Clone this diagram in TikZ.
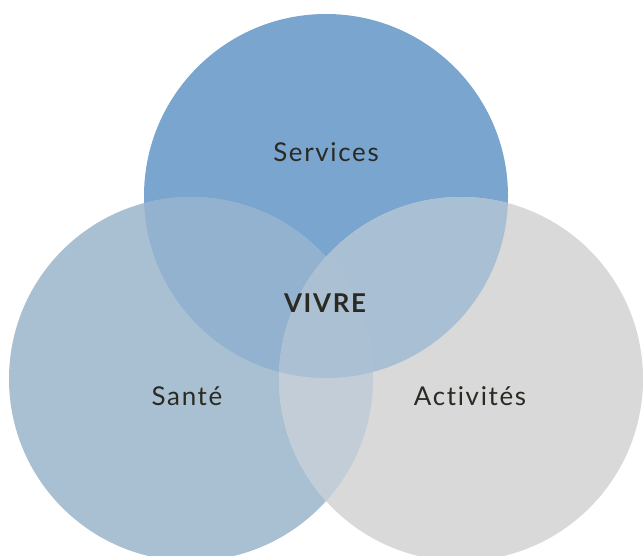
\documentclass[tikz,border=0pt]{standalone}
\usepackage{fontspec}
\setmainfont{Lato}[LetterSpace=6.5,Ligatures={NoCommon}]
\definecolor{cT}{HTML}{79A5CF}
\definecolor{cL}{HTML}{A9BFD2}
\definecolor{cR}{HTML}{D9D9D9}
\definecolor{cTL}{HTML}{93B2CF}
\definecolor{cTR}{HTML}{A9BFD4}
\definecolor{cLR}{HTML}{C2CDD8}
\definecolor{cTLR}{HTML}{ABC0D3}
\definecolor{ink}{HTML}{2A2A22}
\begin{document}
\begin{tikzpicture}[x=1bp,y=-1bp,
  lbl/.style={text=ink,font=\fontsize{26}{30}\selectfont,anchor=base,inner sep=0pt},
  lblb/.style={lbl,font=\fontsize{26}{30}\selectfont\bfseries}]
\useasboundingbox (0,0) rectangle (643,556);
\begin{scope}
\clip (0,0) rectangle (643,556);
\coordinate (cT) at (326,196);
\coordinate (cL) at (191,379);
\coordinate (cR) at (461,379);
\fill[cT] (cT) circle[radius=182bp];
\fill[cL] (cL) circle[radius=182bp];
\fill[cR] (cR) circle[radius=182bp];
\begin{scope}\clip (cT) circle[radius=182bp]; \fill[cTL] (cL) circle[radius=182bp]; \end{scope}
\begin{scope}\clip (cT) circle[radius=182bp]; \fill[cTR] (cR) circle[radius=182bp]; \end{scope}
\begin{scope}\clip (cL) circle[radius=182bp]; \fill[cLR] (cR) circle[radius=182bp]; \end{scope}
\begin{scope}\clip (cT) circle[radius=182bp]; \clip (cL) circle[radius=182bp]; \fill[cTLR] (cR) circle[radius=182bp]; \end{scope}
\end{scope}
\node[lbl] (services) at (326,162) {Services};
\node[lblb] (vivre) at (325,312) {VIVRE};
\node[lbl] (sante) at (187,405) {Santé};
\node[lbl] (activites) at (470,405) {Activités};
\end{tikzpicture}
\end{document}
